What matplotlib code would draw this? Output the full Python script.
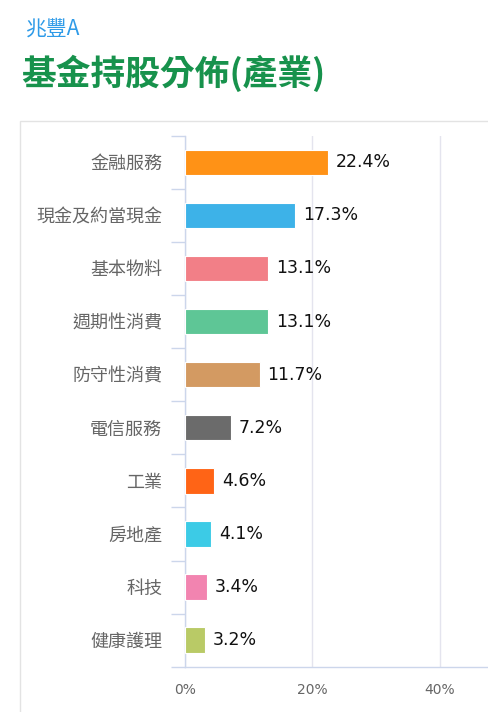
import matplotlib
matplotlib.use("Agg")
import matplotlib.pyplot as plt
from matplotlib.patches import Rectangle
from matplotlib.ticker import FixedLocator

plt.rcParams['font.family'] = ['Noto Sans CJK TC', 'DejaVu Sans']

fund_name = "兆豐A"
title = "基金持股分佈(產業)"
categories = ["金融服務", "現金及約當現金", "基本物料", "週期性消費", "防守性消費",
              "電信服務", "工業", "房地產", "科技", "健康護理"]
values = [22.4, 17.3, 13.1, 13.1, 11.7, 7.2, 4.6, 4.1, 3.4, 3.2]
colors = ["#ff9216", "#3db2e8", "#f27f87", "#5ec696", "#d39a62",
          "#6b6b6b", "#ff6416", "#3ccbe6", "#f284b0", "#b9ca66"]
xticks = [0, 20, 40]
xtick_labels = ["0%", "20%", "40%"]

W, H = 488, 712
fig = plt.figure(figsize=(W / 100, H / 100), dpi=100)

# card border
fig.patches.append(Rectangle((20 / W, -0.1), 1.2, 1 - 121 / H + 0.1,
                             transform=fig.transFigure, fill=False,
                             edgecolor="#e3e3e3", linewidth=1.0))

fig.text(25 / W, 1 - 29 / H, fund_name, color="#2f9be8", fontsize=15,
         va="center", ha="left")
fig.text(21 / W, 1 - 73 / H, title, color="#17924c", fontsize=25,
         fontweight="bold", va="center", ha="left")

left, right = 185 / W, 1.0
top, bottom = 1 - 135.7 / H, 1 - 666.7 / H
ax = fig.add_axes([left, bottom, right - left, top - bottom])

n = len(categories)
ypos = list(range(n))
ax.barh(ypos, values, height=0.48, color=colors, edgecolor="white",
        linewidth=0.8, zorder=3)
ax.set_ylim(n - 0.5, -0.5)
ax.set_xlim(0, 303 / 6.37)

for y, v in zip(ypos, values):
    ax.annotate(f"{v:.1f}%", (v, y), xytext=(5.5, 0), textcoords="offset points",
                va="center", ha="left", fontsize=12.5, color="#111111", zorder=4,
                family="DejaVu Sans")

ax.set_yticks(ypos)
ax.set_yticklabels(categories, fontsize=13, color="#666666")
ax.yaxis.set_minor_locator(FixedLocator([i - 0.5 for i in range(n + 1)]))
ax.tick_params(axis="y", which="major", length=0, pad=16.5)
ax.tick_params(axis="y", which="minor", length=10, width=1, color="#ccd6eb")

ax.set_xticks(xticks)
ax.set_xticklabels(xtick_labels, fontsize=10, color="#666666",
                   family="DejaVu Sans")
ax.tick_params(axis="x", length=0, pad=12)
ax.grid(axis="x", color="#e4e4ee", linewidth=1, zorder=0)

for s in ["top", "right"]:
    ax.spines[s].set_visible(False)
for s in ["left", "bottom"]:
    ax.spines[s].set_color("#ccd6eb")
    ax.spines[s].set_linewidth(1)

fig.savefig("out.png", dpi=100)
